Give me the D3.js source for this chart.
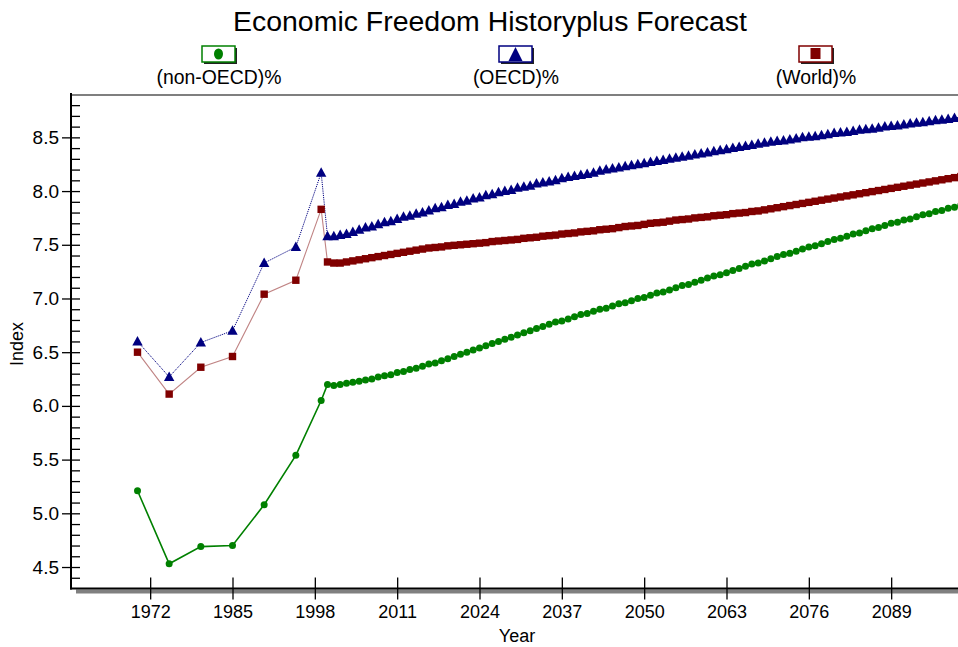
<!DOCTYPE html>
<html><head><meta charset="utf-8">
<script src="https://cdn.jsdelivr.net/npm/d3@7"></script>
<style>html,body{margin:0;padding:0;background:#fff;overflow:hidden}svg{display:block}text{font-family:"Liberation Sans",Arial,sans-serif;fill:#000}</style>
</head><body>
<script>
// ---- data ----
const histYears = [1970, 1975, 1980, 1985, 1990, 1995, 1999];
const forecastYears = d3.range(2000, 2101);
const xTickYears = [1972, 1985, 1998, 2011, 2024, 2037, 2050, 2063, 2076, 2089];
const yMajorTicks = [4.5, 5.0, 5.5, 6.0, 6.5, 7.0, 7.5, 8.0, 8.5];
const seriesNames = ["(non-OECD)%", "(OECD)%", "(World)%"];

const nonOECDHist = [5.21, 4.53, 4.69, 4.70, 5.08, 5.54, 6.05];
const oecdHist = [6.60, 6.27, 6.59, 6.70, 7.33, 7.48, 8.17];
const worldHist = [6.50, 6.11, 6.36, 6.46, 7.04, 7.17, 7.83];

const nonOECDForecast = [
 6.20,6.19,6.20,6.21,6.22,6.23,6.24,6.25,6.27,6.28,
 6.29,6.31,6.32,6.34,6.35,6.37,6.39,6.40,6.42,6.44,
 6.46,6.48,6.50,6.52,6.54,6.56,6.58,6.60,6.62,6.64,
 6.66,6.68,6.70,6.72,6.74,6.76,6.78,6.79,6.81,6.83,
 6.85,6.86,6.88,6.90,6.91,6.93,6.95,6.96,6.98,7.00,
 7.01,7.03,7.05,7.06,7.08,7.10,7.12,7.13,7.15,7.17,
 7.19,7.21,7.22,7.24,7.26,7.28,7.30,7.32,7.33,7.35,
 7.37,7.39,7.41,7.42,7.44,7.46,7.48,7.49,7.51,7.53,
 7.55,7.56,7.58,7.60,7.61,7.63,7.65,7.66,7.68,7.70,
 7.71,7.73,7.74,7.76,7.78,7.79,7.81,7.82,7.84,7.85,
 7.87];
const oecdForecast = [
 7.58,7.58,7.59,7.60,7.62,7.64,7.66,7.67,7.69,7.71,
 7.72,7.74,7.76,7.77,7.79,7.80,7.82,7.84,7.85,7.87,
 7.88,7.90,7.91,7.93,7.94,7.96,7.97,7.99,8.00,8.01,
 8.03,8.04,8.05,8.07,8.08,8.09,8.10,8.12,8.13,8.14,
 8.15,8.16,8.17,8.19,8.20,8.21,8.22,8.23,8.24,8.25,
 8.26,8.27,8.28,8.29,8.30,8.31,8.32,8.33,8.34,8.35,
 8.36,8.37,8.38,8.39,8.40,8.41,8.42,8.43,8.44,8.45,
 8.46,8.465,8.47,8.48,8.49,8.50,8.505,8.51,8.52,8.53,
 8.54,8.545,8.55,8.56,8.57,8.575,8.58,8.59,8.60,8.605,
 8.61,8.62,8.63,8.635,8.64,8.65,8.66,8.665,8.67,8.68,
 8.69];
const worldForecast = [
 7.34,7.33,7.33,7.34,7.35,7.36,7.37,7.38,7.39,7.40,
 7.41,7.42,7.43,7.44,7.45,7.46,7.47,7.475,7.48,7.49,
 7.495,7.50,7.505,7.51,7.515,7.52,7.53,7.535,7.54,7.545,
 7.55,7.56,7.565,7.57,7.58,7.585,7.59,7.60,7.605,7.61,
 7.62,7.625,7.63,7.64,7.645,7.65,7.66,7.67,7.675,7.68,
 7.69,7.70,7.705,7.71,7.72,7.73,7.735,7.74,7.75,7.755,
 7.76,7.77,7.775,7.78,7.79,7.795,7.80,7.81,7.815,7.825,
 7.835,7.845,7.855,7.865,7.875,7.885,7.895,7.905,7.915,7.925,
 7.935,7.945,7.955,7.965,7.975,7.985,7.995,8.005,8.015,8.025,
 8.035,8.045,8.055,8.065,8.075,8.085,8.095,8.105,8.115,8.125,
 8.135];

// ---- build ----
const W = 958, H = 647;
const plotLeft = 71, plotTop = 94.4, plotBottom = 588.5, plotRight = 964;
const allYears = histYears.concat(forecastYears);
function zip(h, f) { const v = h.concat(f); return allYears.map((yr, i) => ({year: yr, v: v[i]})); }
const series = [
  {name: seriesNames[0], data: zip(nonOECDHist, nonOECDForecast), color: "#008000", line: "#008000", lw: 1.6, dash: null, shape: "circle"},
  {name: seriesNames[1], data: zip(oecdHist, oecdForecast), color: "#000080", line: "#000080", lw: 1, dash: "1.2,1", shape: "triangle"},
  {name: seriesNames[2], data: zip(worldHist, worldForecast), color: "#800000", line: "#c08484", lw: 1.1, dash: null, shape: "square"}
];

const x = d3.scaleLinear().domain([1959.5, 2100.5]).range([plotLeft, plotRight]);
const y = d3.scaleLinear().domain([4.3, 8.9]).range([plotBottom, plotTop]);

const svg = d3.select("body").append("svg").attr("width", W).attr("height", H);

// title
svg.append("text").attr("x", 490).attr("y", 31).attr("text-anchor", "middle")
  .attr("font-size", 27).attr("textLength", 514).attr("lengthAdjust", "spacingAndGlyphs")
  .text("Economic Freedom Historyplus Forecast");

// legend
const legX = [219, 516, 816];
series.forEach((s, i) => {
  const g = svg.append("g").attr("transform", `translate(${legX[i]},0)`);
  g.append("rect").attr("x", -15).attr("y", 48).attr("width", 33).attr("height", 16).attr("fill", "#222");
  g.append("rect").attr("x", -17).attr("y", 46).attr("width", 33).attr("height", 16)
    .attr("fill", "#fff").attr("stroke", s.color).attr("stroke-width", 1.5);
  const cx = -0.5, cy = 54;
  if (s.shape === "circle") g.append("ellipse").attr("cx", cx).attr("cy", cy).attr("rx", 4.5).attr("ry", 5.5).attr("fill", s.color);
  else if (s.shape === "triangle") g.append("path").attr("d", `M${cx},${cy-7}L${cx+7},${cy+7}L${cx-7},${cy+7}Z`).attr("fill", s.color);
  else g.append("rect").attr("x", cx - 5).attr("y", cy - 6).attr("width", 10).attr("height", 11).attr("fill", s.color);
  g.append("text").attr("x", 0).attr("y", 84).attr("text-anchor", "middle").attr("font-size", 19.4).text(s.name);
});

// frame lines
svg.append("rect").attr("x", 76).attr("y", 589.5).attr("width", W - 76).attr("height", 4).attr("fill", "#808080");
svg.append("line").attr("x1", plotLeft).attr("x2", W).attr("y1", 95).attr("y2", 95).attr("stroke", "#000").attr("stroke-width", 1.2);

// y axis: outer major ticks with labels, inner minor ticks
const yMinor = d3.range(44, 89).map(d => d / 10);
const gyOut = svg.append("g").attr("transform", `translate(${plotLeft},0)`)
  .call(d3.axisLeft(y).tickValues(yMajorTicks).tickFormat(d3.format(".1f")).tickSize(9).tickPadding(3));
const gyIn = svg.append("g").attr("transform", `translate(${plotLeft},0)`)
  .call(d3.axisRight(y).tickValues(yMinor).tickFormat("").tickSize(9));
// x axis
const gxOut = svg.append("g").attr("transform", `translate(0,${plotBottom})`)
  .call(d3.axisBottom(x).tickValues(xTickYears).tickFormat(d3.format("d")).tickSize(11).tickPadding(6));
const gxIn = svg.append("g").attr("transform", `translate(0,${plotBottom})`)
  .call(d3.axisTop(x).tickValues(xTickYears).tickFormat("").tickSize(11));
[gyOut, gyIn, gxOut, gxIn].forEach(g => {
  g.select(".domain").remove();
  g.selectAll(".tick line").attr("stroke", "#000").attr("stroke-width", 1.3);
  g.selectAll("text").attr("font-size", 18).attr("font-family", '"Liberation Sans",Arial,sans-serif').attr("fill", "#000");
});
gyOut.selectAll("text").attr("font-size", 19);
svg.append("line").attr("x1", plotLeft).attr("x2", plotLeft).attr("y1", 93).attr("y2", plotBottom + 1).attr("stroke", "#000").attr("stroke-width", 2);
svg.append("line").attr("x1", plotLeft - 1).attr("x2", W).attr("y1", plotBottom).attr("y2", plotBottom).attr("stroke", "#000").attr("stroke-width", 2);

// axis titles
svg.append("text").attr("x", 517).attr("y", 642).attr("text-anchor", "middle").attr("font-size", 18).text("Year");
svg.append("text").attr("transform", "translate(23,344) rotate(-90)").attr("text-anchor", "middle").attr("font-size", 18).text("Index");

// series
const line = d3.line().x(d => x(d.year)).y(d => y(d.v));
const plot = svg.append("g");
series.forEach(s => {
  plot.append("path").datum(s.data).attr("d", line).attr("fill", "none")
    .attr("stroke", s.line).attr("stroke-width", s.lw).attr("stroke-dasharray", s.dash);
});
[series[2], series[1], series[0]].forEach(s => {
  const g = plot.append("g").attr("fill", s.color);
  s.data.forEach(d => {
    const px = x(d.year), py = y(d.v);
    if (s.shape === "circle") g.append("circle").attr("cx", px).attr("cy", py).attr("r", 3.5);
    else if (s.shape === "triangle") g.append("path").attr("d", `M${px},${py-5.5}L${px+5.2},${py+4}L${px-5.2},${py+4}Z`);
    else g.append("rect").attr("x", px - 3.7).attr("y", py - 3.7).attr("width", 7.4).attr("height", 7.4);
  });
});
</script>
</body></html>
